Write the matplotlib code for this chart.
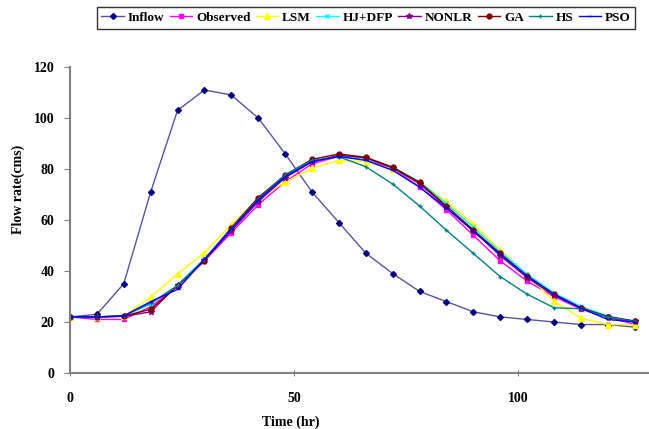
import matplotlib
matplotlib.use("Agg")
import matplotlib.pyplot as plt

plt.rcParams['font.family'] = ['Liberation Serif', 'DejaVu Serif']
plt.rcParams['font.weight'] = 'bold'

time = [0, 6, 12, 18, 24, 30, 36, 42, 48, 54, 60, 66, 72, 78, 84, 90, 96, 102, 108, 114, 120, 126]
inflow = [22, 23, 35, 71, 103, 111, 109, 100, 86, 71, 59, 47, 39, 32, 28, 24, 22, 21, 20, 19, 19, 18]
observed = [22, 21, 21, 26, 34, 44, 55, 66, 75, 82, 85, 84, 80, 73, 64, 54, 44, 36, 30, 25, 22, 19]
lsm = [22, 22, 22.4, 29.7, 38.8, 47.2, 58.2, 68.5, 74.8, 80.3, 83.4, 82.9, 80.0, 74.8, 67.3, 58.4, 48.2, 38.5, 28.2, 21.5, 19.0, 19.0]
hj_dfp = [22, 22, 22.4, 27.0, 34.5, 44.8, 56.5, 67.8, 76.8, 83.0, 85.0, 84.0, 80.8, 75.0, 66.5, 57.2, 47.6, 38.8, 31.4, 26.1, 22.4, 20.2]
nonlr = [22, 22, 22.2, 24.0, 34.4, 44.2, 55.8, 67.2, 76.6, 82.8, 85.4, 84.4, 80.4, 74.2, 65.2, 55.8, 46.0, 37.4, 30.4, 25.4, 22.0, 20.2]
ga = [22, 22, 22.3, 25.0, 34.2, 44.0, 57.0, 68.8, 77.6, 83.8, 85.9, 84.6, 80.7, 74.8, 65.5, 56.1, 46.9, 38.0, 30.9, 25.6, 22.1, 20.4]
hs = [22, 22, 22.4, 27.4, 34.3, 44.6, 56.6, 68.2, 77.8, 83.4, 84.8, 80.9, 74.1, 65.5, 56.0, 46.9, 37.8, 30.9, 25.6, 25.2, 22.0, 20.2]
pso = [22, 22, 22.4, 28.0, 32.8, 44.6, 56.5, 67.9, 77.0, 82.9, 84.9, 83.4, 79.5, 72.9, 64.7, 55.6, 46.5, 38.1, 30.9, 25.4, 21.0, 20.0]

fig = plt.figure(figsize=(6.49, 4.29), dpi=100)
ax = fig.add_axes([70 / 649, 1 - 373 / 429, 579 / 649, 306 / 429])

ax.plot(time, inflow, color='#55559f', lw=1, marker='D', ms=3, mfc='#000080', mec='#000080', label='Inflow')
ax.plot(time, observed, color='#ff00ff', lw=1, marker='s', ms=3.5, label='Observed')
ax.plot(time, lsm, color='#ffff00', lw=1, marker='^', ms=4, label='LSM')
ax.plot(time, hj_dfp, color='#00ffff', lw=1, marker='x', ms=3, label='HJ+DFP')
ax.plot(time, nonlr, color='#800080', lw=1, marker='*', ms=4, label='NONLR')
ax.plot(time, ga, color='#800000', lw=1, marker='o', ms=3.5, label='GA')
ax.plot(time, hs, color='#008080', lw=1, marker='+', ms=3.5, label='HS')
ax.plot(time, pso, color='#0000ff', lw=1, marker='_', ms=3.5, label='PSO')

ax.set_xlim(0, 129.2)
ax.set_ylim(0, 120)
ax.set_xticks([0, 50, 100])
ax.set_yticks(range(0, 121, 20))
for s in ['top', 'right']:
    ax.spines[s].set_visible(False)
for s in ['left', 'bottom']:
    ax.spines[s].set_color('#808080')
    ax.spines[s].set_linewidth(1.5)
ax.tick_params(axis='y', direction='out', length=4, color='#808080', pad=7, labelsize=10)
ax.tick_params(axis='x', direction='inout', length=5, color='#808080', pad=11, labelsize=10)

ax.set_xlabel('Time (hr)', fontsize=10, fontweight='bold')
ax.xaxis.set_label_coords(0.382, -0.138)
ax.set_ylabel('Flow rate(cms)', fontsize=10, fontweight='bold')
ax.yaxis.set_label_coords(-0.077, 0.6)

leg = fig.legend(loc='center', bbox_to_anchor=(366 / 649, 1 - 18 / 429), ncol=8,
                 fontsize=9.5, frameon=True, fancybox=False, handlelength=1.7,
                 handletextpad=0.3, columnspacing=0.4, borderpad=0.35, borderaxespad=0)
leg.get_frame().set_edgecolor('black')
leg.get_frame().set_linewidth(1)

fig.savefig('out.png', dpi=100)
